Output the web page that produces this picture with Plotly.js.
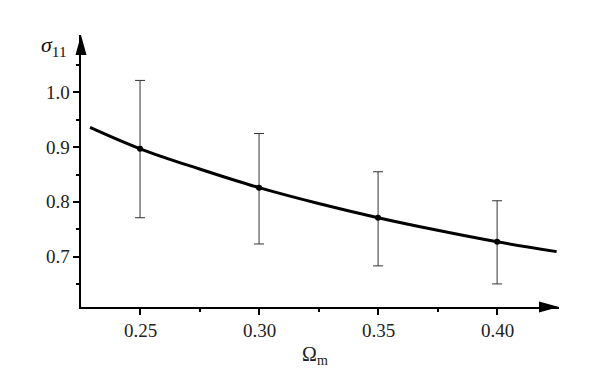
<!DOCTYPE html>
<html>
<head>
<meta charset="utf-8">
<script src="https://cdn.plot.ly/plotly-3.0.1.min.js"></script>
<style>
  html, body { margin: 0; padding: 0; background: #fff; }
  #myPlot { width: 610px; height: 382px; }
</style>
</head>
<body>
<div id="myPlot"></div>
<script>
// measured points with error bars
const omega = [0.25, 0.30, 0.35, 0.40];
const sigma = [0.897, 0.826, 0.771, 0.727];
const sigmaHi = [1.022, 0.925, 0.855, 0.802];
const sigmaLo = [0.771, 0.723, 0.683, 0.650];

// fitted curve
const curveOmega = [0.229, 0.25, 0.275, 0.30, 0.325, 0.35, 0.375, 0.40, 0.425];
const curveSigma = [0.936, 0.897, 0.860, 0.826, 0.797, 0.771, 0.748, 0.727, 0.709];

// tick positions
const xTicks = [0.25, 0.30, 0.35, 0.40];
const xTickText = ["0.25", "0.30", "0.35", "0.40"];
const xMinor = [0.225, 0.275, 0.325, 0.375];
const yTicks = [0.7, 0.8, 0.9, 1.0];
const yTickText = ["0.7", "0.8", "0.9", "1.0"];
const yMinor = [0.65, 0.75, 0.85, 0.95, 1.05];

const errPlus = sigmaHi.map((v, i) => v - sigma[i]);
const errMinus = sigmaLo.map((v, i) => sigma[i] - v);

const serif = "Liberation Serif";
const labelFont = {family: serif, size: 19, color: "#222"};

const data = [
  {
    x: curveOmega,
    y: curveSigma,
    mode: "lines",
    line: {color: "black", width: 3, shape: "spline"},
    hoverinfo: "skip"
  },
  {
    x: omega,
    y: sigma,
    mode: "markers",
    marker: {color: "black", size: 6},
    error_y: {
      type: "data",
      symmetric: false,
      array: errPlus,
      arrayminus: errMinus,
      color: "#333",
      thickness: 1,
      width: 5
    }
  }
];

const axisStyle = {
  showgrid: false,
  zeroline: false,
  showline: true,
  linecolor: "black",
  linewidth: 2,
  ticks: "outside",
  ticklen: 6,
  tickwidth: 2,
  tickcolor: "black",
  showticklabels: false
};

// tick labels drawn as serif annotations at the tick values
const xLabels = xTicks.map((v, i) => ({
  text: xTickText[i], x: v, xref: "x", y: 0, yref: "paper",
  xanchor: "center", yanchor: "top", yshift: -11, showarrow: false, font: labelFont
}));
const yLabels = yTicks.map((v, i) => ({
  text: yTickText[i], x: 0, xref: "paper", y: v, yref: "y",
  xanchor: "right", yanchor: "middle", xshift: -9, showarrow: false, font: labelFont
}));

const layout = {
  width: 610,
  height: 382,
  margin: {l: 81, r: 51, t: 35, b: 75},
  showlegend: false,
  paper_bgcolor: "white",
  plot_bgcolor: "white",
  font: {family: serif, size: 19, color: "#222"},
  xaxis: Object.assign({
    range: [0.2252, 0.426],
    tickvals: xTicks,
    minor: {tickvals: xMinor, ticks: "outside", ticklen: 3, tickwidth: 2, tickcolor: "black", showgrid: false}
  }, axisStyle),
  yaxis: Object.assign({
    range: [0.6078, 1.105],
    tickvals: yTicks,
    minor: {tickvals: yMinor, ticks: "outside", ticklen: 3, tickwidth: 2, tickcolor: "black", showgrid: false}
  }, axisStyle),
  shapes: [
    // x axis arrow head
    {
      type: "path", xref: "paper", yref: "paper",
      xsizemode: "pixel", ysizemode: "pixel", xanchor: 1, yanchor: 0,
      path: "M0,0 L-20,5.5 L-20,-5.5 Z",
      fillcolor: "black", line: {width: 0}
    },
    // y axis arrow head
    {
      type: "path", xref: "paper", yref: "paper",
      xsizemode: "pixel", ysizemode: "pixel", xanchor: 0, yanchor: 1,
      path: "M0,0 L-5.5,-20 L5.5,-20 Z",
      fillcolor: "black", line: {width: 0}
    }
  ],
  annotations: xLabels.concat(yLabels, [
    {
      text: "<i>σ</i><sub>11</sub>",
      xref: "paper", yref: "paper", x: -0.025, y: 0.96,
      xanchor: "right", yanchor: "middle", showarrow: false,
      font: {family: serif, size: 22, color: "#111"}
    },
    {
      text: "Ω<sub>m</sub>",
      xref: "paper", yref: "paper", x: 0.49, y: -0.125,
      xanchor: "center", yanchor: "top", showarrow: false,
      font: {family: serif, size: 20, color: "#222"}
    }
  ])
};

Plotly.newPlot("myPlot", data, layout, {displayModeBar: false});
</script>
</body>
</html>
